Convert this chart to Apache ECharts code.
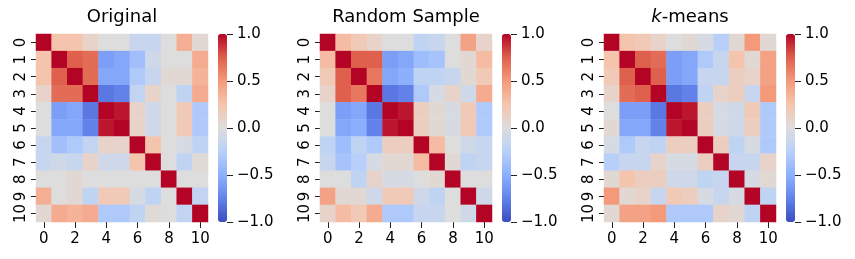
<!DOCTYPE html>
<html><head><meta charset="utf-8">
<script src="https://cdn.jsdelivr.net/npm/echarts@6/dist/echarts.min.js"></script>
<style>html,body{margin:0;padding:0;background:#fff}#c{width:855px;height:259px}</style>
</head><body><div id="c"></div>
<script>
const categories = ['0','1','2','3','4','5','6','7','8','9','10'];
const titles = ['Original', 'Random Sample', '{i|k}-means'];
const colorbarTicks = [-1, -0.5, 0, 0.5, 1];

const original = [
  [1, 0.25, 0.25, 0.1, 0.0, 0.0, -0.15, -0.15, 0.0, 0.38, 0.05],
  [0.25, 1, 0.75, 0.7, -0.6, -0.55, -0.38, -0.1, 0.0, 0.0, 0.4],
  [0.25, 0.75, 1, 0.7, -0.55, -0.55, -0.3, -0.15, 0.05, 0.05, 0.35],
  [0.1, 0.7, 0.7, 1, -0.8, -0.75, -0.18, 0.1, 0.0, -0.2, 0.4],
  [0.0, -0.6, -0.55, -0.8, 1, 0.95, 0.1, -0.1, 0.0, 0.2, -0.3],
  [0.0, -0.55, -0.55, -0.75, 0.95, 1, 0.1, -0.1, 0.0, 0.2, -0.3],
  [-0.15, -0.38, -0.3, -0.18, 0.1, 0.1, 1, 0.25, 0.0, -0.05, -0.2],
  [-0.15, -0.1, -0.15, 0.1, -0.1, -0.1, 0.25, 1, 0.0, -0.2, 0.03],
  [0.0, 0.0, 0.05, 0.0, 0.0, 0.0, 0.0, 0.0, 1, 0.0, 0.0],
  [0.38, 0.0, 0.05, -0.2, 0.2, 0.2, -0.05, -0.2, 0.0, 1, -0.18],
  [0.05, 0.4, 0.35, 0.4, -0.3, -0.3, -0.2, 0.03, 0.0, -0.18, 1]
];

const randomSample = [
  [1, 0.3, 0.2, 0.1, 0.0, 0.0, -0.2, -0.15, 0.0, 0.45, 0.1],
  [0.3, 1, 0.75, 0.75, -0.6, -0.55, -0.4, -0.35, 0.0, 0.05, 0.3],
  [0.2, 0.75, 1, 0.65, -0.55, -0.5, -0.2, -0.2, -0.15, 0.05, 0.2],
  [0.1, 0.75, 0.65, 1, -0.8, -0.75, -0.3, -0.05, 0.1, -0.1, 0.4],
  [0.0, -0.6, -0.55, -0.8, 1, 0.95, 0.15, 0.05, -0.05, 0.2, -0.3],
  [0.0, -0.55, -0.5, -0.75, 0.95, 1, 0.15, 0.05, -0.05, 0.2, -0.3],
  [-0.2, -0.4, -0.2, -0.3, 0.15, 0.15, 1, 0.3, 0.0, -0.1, -0.15],
  [-0.15, -0.35, -0.25, -0.05, 0.05, 0.05, 0.3, 1, 0.05, -0.2, -0.15],
  [0.0, 0.0, -0.2, 0.1, -0.05, -0.05, 0.0, 0.05, 1, 0.0, 0.0],
  [0.45, 0.05, 0.05, -0.1, 0.2, 0.2, -0.1, -0.2, 0.0, 1, -0.1],
  [0.1, 0.3, 0.2, 0.4, -0.3, -0.3, -0.15, -0.15, 0.0, -0.1, 1]
];

const kmeans = [
  [1, 0.25, 0.2, 0.1, 0.0, 0.05, -0.05, -0.25, 0.05, 0.5, 0.05],
  [0.25, 1, 0.75, 0.7, -0.6, -0.55, -0.3, -0.15, 0.25, 0.05, 0.45],
  [0.2, 0.75, 1, 0.75, -0.6, -0.55, -0.15, -0.15, 0.15, 0.1, 0.45],
  [0.1, 0.7, 0.75, 1, -0.8, -0.75, -0.2, 0.1, 0.15, -0.15, 0.5],
  [0.0, -0.6, -0.6, -0.8, 1, 0.95, 0.15, -0.05, -0.1, 0.2, -0.3],
  [0.05, -0.55, -0.55, -0.75, 0.95, 1, 0.15, -0.05, -0.1, 0.15, -0.3],
  [-0.05, -0.3, -0.15, -0.2, 0.15, 0.15, 1, 0.15, -0.2, -0.05, -0.3],
  [-0.25, -0.15, -0.15, 0.1, -0.05, -0.05, 0.15, 1, -0.15, -0.15, 0.1],
  [0.05, 0.25, 0.15, 0.15, -0.1, -0.1, -0.2, -0.15, 1, -0.05, 0.05],
  [0.5, 0.05, 0.1, -0.15, 0.2, 0.15, -0.05, -0.15, -0.05, 1, -0.2],
  [0.05, 0.45, 0.45, 0.5, -0.3, -0.3, -0.3, 0.1, 0.05, -0.2, 1]
];

const matrices = [original, randomSample, kmeans];
const coolwarm = ['#3b4cc0','#6282ea','#8db0fe','#b8d0f9','#dddddd','#f5c4ad','#f49a7b','#de604d','#b40426'];

const FONT = 'DejaVu Sans';
const heatLefts = [36, 320, 604];
const heatTop = 34, heatW = 172, heatH = 188;
const cbarOffset = 182, cbarW = 9;

const grids = [], xAxes = [], yAxes = [], series = [], visualMaps = [], graphics = [];

heatLefts.forEach((L, k) => {
  grids.push({left: L, top: heatTop, width: heatW, height: heatH});
  xAxes.push({
    type: 'category', gridIndex: 2*k, data: categories,
    axisLine: {show: false},
    axisTick: {show: true, interval: 1, alignWithLabel: true, length: 6, lineStyle: {color: '#222'}},
    axisLabel: {interval: 1, fontFamily: FONT, fontSize: 15, color: '#000', margin: 10},
    splitLine: {show: false}
  });
  yAxes.push({
    type: 'category', gridIndex: 2*k, data: categories, inverse: true,
    axisLine: {show: false},
    axisTick: {show: true, interval: 0, alignWithLabel: true, length: 5, lineStyle: {color: '#222'}},
    axisLabel: {interval: 0, rotate: 90, fontFamily: FONT, fontSize: 15, color: '#000', margin: 7},
    splitLine: {show: false}
  });
  const data = [];
  matrices[k].forEach((row, r) => row.forEach((v, c) => data.push([c, r, v])));
  series.push({type: 'heatmap', xAxisIndex: 2*k, yAxisIndex: 2*k, data: data, itemStyle: {borderWidth: 0}, emphasis: {disabled: true}});

  grids.push({left: L + cbarOffset, top: heatTop, width: cbarW, height: heatH});
  xAxes.push({type: 'category', gridIndex: 2*k+1, data: [''], show: false});
  yAxes.push({
    type: 'value', gridIndex: 2*k+1, position: 'right', min: colorbarTicks[0], max: colorbarTicks[colorbarTicks.length-1], interval: 0.5,
    axisLine: {show: false}, splitLine: {show: false},
    axisTick: {show: true, length: 6, lineStyle: {color: '#222'}},
    axisLabel: {fontFamily: FONT, fontSize: 15, color: '#000', margin: 10,
      formatter: v => (v < 0 ? '\u2212' : '') + Math.abs(v).toFixed(1)}
  });
  series.push({type: 'scatter', xAxisIndex: 2*k+1, yAxisIndex: 2*k+1, data: []});

  visualMaps.push({
    type: 'continuous', min: -1, max: 1, seriesIndex: 2*k, calculable: false,
    orient: 'vertical', left: L + cbarOffset, top: heatTop, itemWidth: cbarW, itemHeight: heatH,
    padding: 0, text: null, showLabel: false, hoverLink: false,
    inRange: {color: coolwarm}
  });

  graphics.push({
    type: 'text', x: L + heatW/2, y: 17,
    style: {
      text: titles[k], fontFamily: FONT, fontSize: 18, fill: '#000',
      textAlign: 'center', textVerticalAlign: 'middle',
      rich: {i: {fontFamily: FONT, fontSize: 18, fontStyle: 'italic', fill: '#000'}}
    }
  });
});

const chart = echarts.init(document.getElementById('c'), null, {renderer: 'canvas'});
chart.setOption({
  animation: false,
  backgroundColor: '#fff',
  grid: grids, xAxis: xAxes, yAxis: yAxes,
  visualMap: visualMaps, series: series, graphic: graphics
});
</script>
</body></html>
